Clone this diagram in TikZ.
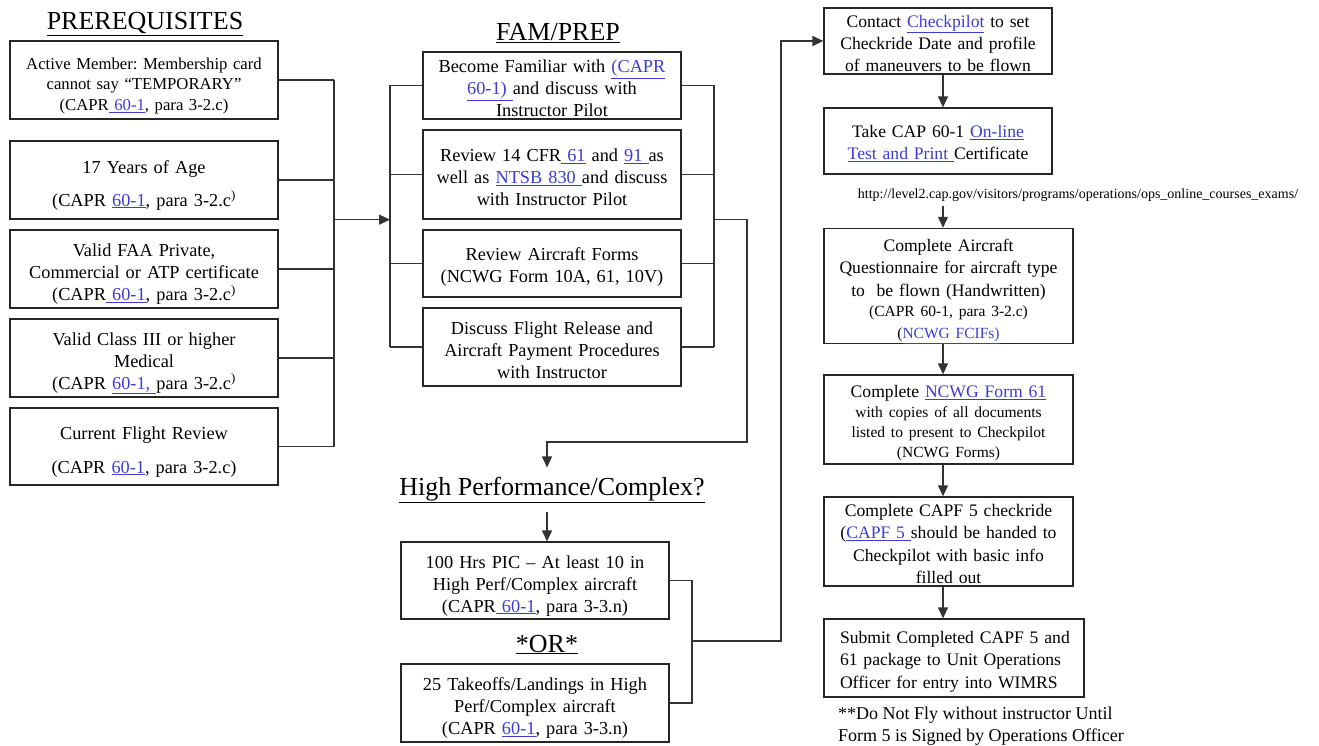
\documentclass[tikz,border=0pt]{standalone}
\usepackage{fontspec}
\usepackage{xcolor}
\usepackage{pgf,tikz}
\usetikzlibrary{arrows.meta}
\setmainfont{Liberation Serif}
\frenchspacing
\definecolor{linkblue}{RGB}{60,60,215}
\newcommand{\lnk}[1]{\textcolor{linkblue}{\underline{#1}}}
\newcommand{\bigsz}{\fontsize{26}{30}\selectfont}
\newcommand{\smsz}{\fontsize{15.5}{20}\selectfont}

\begin{document}
\begin{tikzpicture}[x=1pt, y=-1pt,
		box/.style={draw=black!85, line width=1.3pt, align=center, inner sep=0pt, font=\fontsize{18.3}{22}\selectfont, execute at begin node={\rule{0pt}{#1}}},
		box/.default=19pt,
		pbox/.style={box=23pt, minimum width=268pt, minimum height=78pt, text width=258pt},
		fbox/.style={box, minimum width=258pt, text width=250pt},
		cbox/.style={box=#1, text width=240pt, font=\fontsize{17.6}{22.3}\selectfont},
		cbox/.default=17pt,
		ln/.style={draw=black!80, line width=1.3pt},
		arr/.style={ln, -{Triangle[length=11pt,width=10pt]}},
		ttl/.style={font=\bigsz, anchor=base, inner xsep=1pt, inner ysep=9pt}]
				\useasboundingbox (0,0) rectangle (1319,746);
				
				\coordinate (lb) at (334,0);
				\coordinate (fl) at (390,0);
				\coordinate (fr) at (714,0);
				\coordinate (hx) at (547,0);
				\coordinate (hr) at (692,0);
				\coordinate (ax) at (943,0);
				\coordinate (hb) at (747,442);
				\coordinate (hj) at (692,641);
				\coordinate (cx) at (781,0);
				
				\node[ttl] (pq) at (145,30) {\underline{PREREQUISITES}};
				\node[pbox, font=\fontsize{16.7}{20.5}\selectfont] (pre1) at (144,80) {Active Member: Membership card\\ cannot say ``TEMPORARY''\\ (CAPR\lnk{\ 60-1}, para 3-2.c)};
				\node[pbox] (pre2) at (144,180) {17 Years of Age\\[11pt] (CAPR \lnk{60-1}, para 3-2.c\textsuperscript{)}};
				\node[pbox] (pre3) at (144,269) {Valid FAA Private,\\ Commercial or ATP certificate\\ (CAPR\lnk{\ 60-1}, para 3-2.c\textsuperscript{)}};
				\node[pbox] (pre4) at (144,358) {Valid Class III or higher\\ Medical\\ (CAPR \lnk{60-1,\ }para 3-2.c\textsuperscript{)}};
				\node[pbox, minimum height=77pt] (pre5) at (144,446.5) {Current Flight Review\\[12pt] (CAPR \lnk{60-1}, para 3-2.c)};
				
				\node[ttl] (fq) at (558,41) {\underline{FAM/PREP}};
				\node[fbox, minimum height=67pt] (fam1) at (552,85.5) {Become Familiar with \lnk{(CAPR}\\ \lnk{60-1)\ }and discuss with\\ Instructor Pilot};
				\node[fbox, minimum height=89pt] (fam2) at (552,174.5) {Review 14 CFR\lnk{\ 61} and \lnk{91\ }as\\ well as \lnk{NTSB 830\ }and discuss\\ with Instructor Pilot};
				\node[fbox, minimum height=67pt] (fam3) at (552,263.5) {Review Aircraft Forms\\ (NCWG Form 10A, 61, 10V)};
				\node[fbox, minimum height=78pt] (fam4) at (552,347) {Discuss Flight Release and\\ Aircraft Payment Procedures\\ with Instructor};
				
				\node[ttl] (hpq) at (552,495) {\underline{High Performance/Complex?}};
				\node[pbox, box=21pt, minimum height=77pt] (hp1) at (535,580.5) {100 Hrs PIC -- At least 10 in\\ High Perf/Complex aircraft\\ (CAPR\lnk{\ 60-1}, para 3-3.n)};
				\node[ttl] (orq) at (547,652) {\underline{*OR*}};
				\node[pbox, box=21pt] (hp2) at (535,703) {25 Takeoffs/Landings in High\\ Perf/Complex aircraft\\ (CAPR \lnk{60-1}, para 3-3.n)};
				
				\node[cbox, minimum width=228pt, minimum height=66pt, text width=220pt] (ck1) at (938,41) {Contact \lnk{Checkpilot} to set\\ Checkride Date and profile\\ of maneuvers to be flown};
				\node[cbox, minimum width=228pt, minimum height=66pt, text width=220pt] (ck2) at (938,141) {Take CAP 60-1 \lnk{On-line}\\ \lnk{Test and Print\ }Certificate};
				\node[font=\fontsize{14}{17}\selectfont, anchor=base, inner sep=4pt] (url) at (1078,199) {http://level2.cap.gov/visitors/programs/operations/ops\_online\_courses\_exams/};
				\node[cbox=23pt, minimum width=249pt, minimum height=112pt] (ck3) at (948.5,286) {Complete Aircraft\\ Questionnaire for aircraft type\\ to\ \ be flown (Handwritten)\\ {\smsz (CAPR 60-1, para 3-2.c)\\ (\lnk{NCWG FCIFs)}}};
				\node[cbox=19pt, minimum width=249pt, minimum height=89pt, font=\fontsize{17.6}{20}\selectfont] (ck4) at (948.5,419.5) {Complete \lnk{NCWG Form 61}\\ {\smsz with copies of all documents\\ listed to present to Checkpilot\\ (NCWG Forms)}};
				\node[cbox, minimum width=249pt, minimum height=89pt] (ck5) at (948.5,541.5) {Complete CAPF 5 checkride\\ (\lnk{CAPF 5\ }should be handed to\\ Checkpilot with basic info\\ filled out};
				\node[cbox, minimum width=260pt, minimum height=78pt, text width=256pt, align=left, font=\fontsize{17.6}{22.5}\selectfont, execute at begin node={\leftskip=14pt\rule{0pt}{19pt}}] (ck6) at (954,658) {Submit Completed CAPF 5 and\\ 61 package to Unit Operations\\ Officer for entry into WIMRS};
				\node[font=\fontsize{18}{22}\selectfont, align=left, anchor=north west, inner sep=0pt] (note) at (838,707) {**Do Not Fly without instructor Until\\ Form 5 is Signed by Operations Officer};
				
				\foreach \i in {1,...,5}
				\draw[ln] (pre\i.east) -- (pre\i.east -| lb);
				\draw[ln] (pre1.east -| lb) -- (pre5.east -| lb);
				\draw[arr] (lb |- fam2.south) -- (fl |- fam2.south);
				
				\foreach \i in {1,...,4}
				\draw[ln] (fam\i.west) -- (fam\i.west -| fl) (fam\i.east) -- (fam\i.east -| fr);
				\draw[ln] (fam1.west -| fl) -- (fam4.west -| fl) (fam1.east -| fr) -- (fam4.east -| fr);
				\draw[arr] (fr |- fam2.south) -| (hb) -| (hpq.north -| hx);
				\draw[arr] (hpq.south -| hx) -- (hp1.north -| hx);
				
				\draw[ln] (hp1.east) -- (hp1.east -| hr) -- (hp2.east -| hr) -- (hp2.east);
				\draw[arr] (hj) -| (cx |- ck1.west) -- (ck1.west);
				
				\draw[arr] (ck1.south -| ax) -- (ck2.north -| ax);
				\draw[arr] (url.south -| ax) -- (ck3.north -| ax);
				\foreach \a/\b in {ck3/ck4, ck4/ck5, ck5/ck6}
				\draw[arr] (\a.south -| ax) -- (\b.north -| ax);
\end{tikzpicture}
\end{document}
